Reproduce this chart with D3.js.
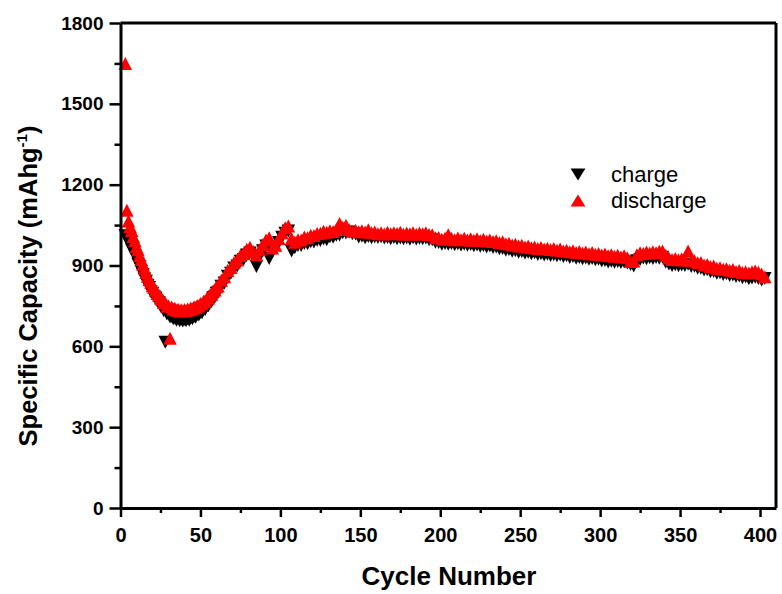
<!DOCTYPE html>
<meta charset="utf-8">
<script src="https://d3js.org/d3.v7.min.js"></script>
<style>
  body { margin: 0; background: #fff; }
  text { font-family: "Liberation Sans", Arial, sans-serif; }
</style>
<div id="my_dataviz"></div>
<script>
  // cycle numbers: every cycle up to 60, then every second cycle
  var cycles = d3.range(3, 61).concat(d3.range(61, 404, 2));

  var discharge = [
    1650, 1105, 1065, 1045, 1030, 1008, 992, 970,
    958, 937, 922, 905, 890, 874, 860, 848, 838, 825,
    818, 808, 796, 790, 779, 775, 763, 762, 750, 751,
    630, 746, 738, 741, 734, 738, 732, 736, 731, 737,
    733, 739, 736, 742, 739, 747, 744, 752, 750, 759,
    758, 767, 767, 778, 779, 791, 793, 806, 809, 821,
    824, 845, 858, 881, 893, 911, 920, 937, 945, 960,
    968, 952, 940, 958, 978, 995, 1003, 965, 975, 1000,
    1022, 1040, 1047, 1000, 986, 996, 995, 1006, 1003, 1012,
    1011, 1019, 1020, 1027, 1023, 1029, 1026, 1034, 1056, 1042,
    1049, 1034, 1027, 1031, 1025, 1029, 1024, 1033, 1022, 1024,
    1018, 1022, 1017, 1023, 1018, 1022, 1019, 1023, 1016, 1021,
    1018, 1022, 1016, 1021, 1018, 1022, 1015, 1014, 1003, 1004,
    997, 1001, 1014, 1001, 996, 1002, 996, 1001, 995, 999,
    994, 999, 993, 997, 991, 995, 989, 992, 985, 988,
    981, 983, 976, 979, 972, 975, 969, 972, 966, 969,
    963, 967, 961, 964, 959, 963, 957, 961, 954, 957,
    951, 955, 948, 952, 946, 950, 944, 948, 942, 945,
    939, 943, 936, 940, 934, 938, 932, 936, 929, 915,
    917, 940, 947, 945, 950, 946, 951, 947, 953, 954,
    938, 928, 922, 926, 921, 925, 920, 954, 918, 918,
    910, 911, 902, 904, 896, 898, 890, 892, 886, 888,
    882, 885, 878, 881, 874, 877, 872, 877, 880, 875,
    868, 858
  ];

  var charge = [
    1010, 1000, 985, 975, 958, 950, 935, 925,
    905, 895, 878, 867, 850, 842, 826, 818, 803, 797,
    785, 779, 767, 762, 750, 745, 732, 615, 720, 719,
    709, 711, 702, 705, 697, 701, 695, 700, 694, 700,
    695, 702, 697, 705, 702, 711, 708, 718, 716, 726,
    725, 737, 737, 750, 751, 764, 766, 780, 783, 797,
    800, 823, 835, 860, 871, 891, 898, 916, 922, 939,
    946, 935, 896, 935, 955, 972, 926, 950, 965, 985,
    1005, 1020, 1028, 954, 966, 974, 974, 982, 981, 988,
    987, 994, 993, 998, 996, 1007, 1005, 1012, 1013, 1022,
    1021, 1024, 1018, 1017, 1006, 1009, 1003, 1008, 1003, 1006,
    1004, 1007, 1002, 1004, 999, 1004, 999, 1002, 999, 1002,
    997, 1003, 998, 1001, 999, 1002, 996, 996, 986, 985,
    979, 982, 979, 982, 977, 981, 976, 979, 975, 978,
    973, 976, 971, 974, 969, 972, 967, 969, 962, 963,
    957, 959, 953, 955, 949, 952, 946, 949, 944, 947,
    941, 944, 939, 942, 937, 940, 936, 939, 933, 936,
    930, 933, 927, 930, 925, 928, 923, 926, 921, 923,
    917, 919, 913, 916, 912, 915, 911, 914, 909, 904,
    898, 918, 922, 928, 925, 929, 926, 930, 927, 931,
    912, 906, 900, 903, 899, 902, 900, 905, 896, 897,
    890, 890, 883, 884, 877, 878, 871, 873, 867, 869,
    863, 865, 859, 861, 855, 857, 851, 854, 856, 852,
    846, 852
  ];

  var xTicks = [0, 50, 100, 150, 200, 250, 300, 350, 400];
  var xMinor = [25, 75, 125, 175, 225, 275, 325, 375];
  var yTicks = [0, 300, 600, 900, 1200, 1500, 1800];
  var yMinor = [150, 450, 750, 1050, 1350, 1650];
  var seriesNames = ["charge", "discharge"];

  var W = 782, H = 594;
  var plot = { left: 120.5, right: 776, top: 23, bottom: 508 };

  var svg = d3.select("#my_dataviz")
    .append("svg")
    .attr("width", W)
    .attr("height", H);

  var x = d3.scaleLinear().domain([0, 410]).range([plot.left, plot.right]);
  var y = d3.scaleLinear().domain([0, 1800]).range([plot.bottom, plot.top]);

  var triDown = "M-6.75,-6.5L6.75,-6.5L0,6.5Z";
  var triUp = "M0,-6.5L6.75,6.5L-6.75,6.5Z";

  // charge points (black, down triangles) first, discharge on top
  var chargeData = cycles.map(function (c, i) { return { c: c, v: charge[i] }; });
  var dischargeData = cycles.map(function (c, i) { return { c: c, v: discharge[i] }; });

  svg.append("g")
    .selectAll("path")
    .data(chargeData)
    .enter()
    .append("path")
    .attr("d", triDown)
    .attr("transform", function (d) { return "translate(" + x(d.c) + "," + y(d.v) + ")"; })
    .attr("fill", "#000");

  svg.append("g")
    .selectAll("path")
    .data(dischargeData)
    .enter()
    .append("path")
    .attr("d", triUp)
    .attr("transform", function (d) { return "translate(" + x(d.c) + "," + y(d.v) + ")"; })
    .attr("fill", "#ff0000");

  // frame: top and right
  svg.append("line")
    .attr("x1", plot.left).attr("x2", plot.right)
    .attr("y1", plot.top).attr("y2", plot.top)
    .attr("stroke", "#000").attr("stroke-width", 3);
  svg.append("line")
    .attr("x1", plot.right).attr("x2", plot.right)
    .attr("y1", plot.top).attr("y2", plot.bottom)
    .attr("stroke", "#000").attr("stroke-width", 3);

  // minor ticks
  svg.append("g")
    .attr("transform", "translate(0," + plot.bottom + ")")
    .call(d3.axisBottom(x).tickValues(xMinor).tickSize(5).tickSizeOuter(0).tickFormat(""))
    .call(function (g) { g.select(".domain").remove(); })
    .selectAll("line").attr("stroke-width", 2.5);
  svg.append("g")
    .attr("transform", "translate(" + plot.left + ",0)")
    .call(d3.axisLeft(y).tickValues(yMinor).tickSize(6).tickSizeOuter(0).tickFormat(""))
    .call(function (g) { g.select(".domain").remove(); })
    .selectAll("line").attr("stroke-width", 2.5);

  // X axis
  var gx = svg.append("g")
    .attr("transform", "translate(0," + plot.bottom + ")")
    .call(d3.axisBottom(x).tickValues(xTicks).tickSize(9).tickSizeOuter(0).tickPadding(11)
      .tickFormat(d3.format("d")));
  gx.select(".domain").attr("stroke-width", 3);
  gx.selectAll(".tick line").attr("stroke-width", 2.5);
  gx.selectAll(".tick text")
    .attr("fill", "#000")
    .style("font-size", "20px")
    .style("font-weight", "bold")
    .style("font-family", "'Liberation Sans', Arial, sans-serif");

  // Y axis
  var gy = svg.append("g")
    .attr("transform", "translate(" + plot.left + ",0)")
    .call(d3.axisLeft(y).tickValues(yTicks).tickSize(11).tickSizeOuter(0).tickPadding(6)
      .tickFormat(d3.format("d")));
  gy.select(".domain").attr("stroke-width", 3);
  gy.selectAll(".tick line").attr("stroke-width", 2.5);
  gy.selectAll(".tick text")
    .attr("fill", "#000")
    .style("font-size", "19px")
    .style("font-weight", "bold")
    .style("font-family", "'Liberation Sans', Arial, sans-serif");

  // axis titles
  svg.append("text")
    .attr("x", 449)
    .attr("y", 585)
    .attr("text-anchor", "middle")
    .style("font-size", "26px")
    .style("font-weight", "bold")
    .text("Cycle Number");

  var yTitle = svg.append("text")
    .attr("transform", "translate(37,286) rotate(-90)")
    .attr("text-anchor", "middle")
    .style("font-size", "25.5px")
    .style("font-weight", "bold");
  yTitle.append("tspan").text("Specific Capacity (mAhg");
  yTitle.append("tspan").attr("dy", -10).style("font-size", "15px").text("-1");
  yTitle.append("tspan").attr("dy", 10).text(")");

  // legend
  var legend = svg.append("g");
  var legendRows = [
    { name: seriesNames[0], shape: triDown, color: "#000", y: 174.5 },
    { name: seriesNames[1], shape: triUp, color: "#ff0000", y: 200.5 }
  ];
  legendRows.forEach(function (r) {
    legend.append("path")
      .attr("d", r.shape)
      .attr("transform", "translate(578," + r.y + ") scale(1.1,0.92)")
      .attr("fill", r.color);
    legend.append("text")
      .attr("x", 611)
      .attr("y", r.y + 7)
      .style("font-size", "22px")
      .text(r.name);
  });
</script>
